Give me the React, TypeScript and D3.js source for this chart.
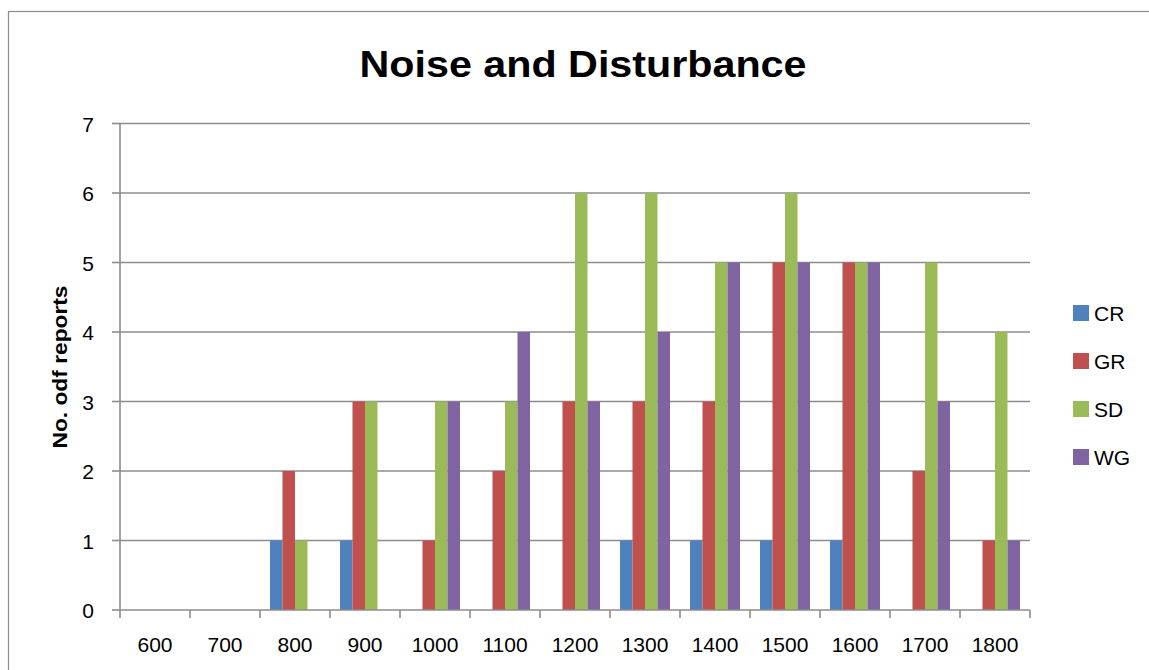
import React from "react";
import * as d3 from "d3";

const categories = ["600", "700", "800", "900", "1000", "1100", "1200", "1300", "1400", "1500", "1600", "1700", "1800"];
const seriesNames = ["CR", "GR", "SD", "WG"];
const crValues = [0, 0, 1, 1, 0, 0, 0, 1, 1, 1, 1, 0, 0];
const grValues = [0, 0, 2, 3, 1, 2, 3, 3, 3, 5, 5, 2, 1];
const sdValues = [0, 0, 1, 3, 3, 3, 6, 6, 5, 6, 5, 5, 4];
const wgValues = [0, 0, 0, 0, 3, 4, 3, 4, 5, 5, 5, 3, 1];
const yTicks = [0, 1, 2, 3, 4, 5, 6, 7];
const colors = ["#4F81BD", "#C0504D", "#9BBB59", "#8064A2"];

const allSeries = [crValues, grValues, sdValues, wgValues];

export default function App() {
  const W = 1149, H = 670;
  const left = 120, right = 1030, top = 123.5, bottom = 610;
  const x = d3.scaleBand<string>().domain(categories).range([left, right]).paddingInner(0).paddingOuter(0);
  const inner = d3.scaleBand<string>().domain(seriesNames).range([10, x.bandwidth() - 10]).padding(0);
  const y = d3.scaleLinear().domain([0, 7]).range([bottom, top]);
  const font = "'Liberation Sans', Arial, sans-serif";
  const grid = "#8C8C8C";

  return (
    <svg width={W} height={H} style={{ position: "absolute", left: 0, top: 0 }} xmlns="http://www.w3.org/2000/svg">
      <rect x={0} y={0} width={W} height={H} fill="#fff" />
      <rect x={8.5} y={11.5} width={W + 20} height={H + 20} fill="none" stroke="#8C8C8C" strokeWidth={1.2} />
      <text x={583} y={77} textAnchor="middle" fontFamily={font} fontWeight="bold" fontSize={37} textLength={447} lengthAdjust="spacingAndGlyphs" fill="#000">
        Noise and Disturbance
      </text>
      {yTicks.map((t) => (
        <g key={t}>
          {t > 0 && <line x1={left} x2={right} y1={y(t)} y2={y(t)} stroke={grid} strokeWidth={1.6} />}
          <line x1={112} x2={left} y1={y(t)} y2={y(t)} stroke={grid} strokeWidth={1.6} />
          <text x={94} y={y(t) + 8} textAnchor="end" fontFamily={font} fontSize={21} fill="#000">{t}</text>
        </g>
      ))}
      {allSeries.map((vals, si) =>
        vals.map((v, ci) =>
          v > 0 ? (
            <rect key={`${si}-${ci}`}
              x={(x(categories[ci]) as number) + (inner(seriesNames[si]) as number)}
              y={y(v)} width={inner.bandwidth()} height={y(0) - y(v)}
              fill={colors[si]} />
          ) : null
        )
      )}
      <line x1={left} x2={left} y1={top} y2={bottom} stroke={grid} strokeWidth={1.6} />
      <line x1={left} x2={right} y1={bottom} y2={bottom} stroke={grid} strokeWidth={1.6} />
      {d3.range(categories.length + 1).map((i) => {
        const xx = left + i * x.bandwidth();
        return <line key={i} x1={xx} x2={xx} y1={bottom} y2={618} stroke={grid} strokeWidth={1.6} />;
      })}
      {categories.map((c) => (
        <text key={c} x={(x(c) as number) + x.bandwidth() / 2} y={652} textAnchor="middle" fontFamily={font} fontSize={21} fill="#000">{c}</text>
      ))}
      <text transform={`translate(67,367) rotate(-90)`} textAnchor="middle" fontFamily={font} fontWeight="bold" fontSize={20} textLength={163} lengthAdjust="spacingAndGlyphs" fill="#000">
        No. odf reports
      </text>
      {seriesNames.map((s, i) => (
        <g key={s}>
          <rect x={1073} y={305 + i * 48} width={16} height={16} fill={colors[i]} />
          <text x={1094} y={321 + i * 48} fontFamily={font} fontSize={21} fill="#000">{s}</text>
        </g>
      ))}
    </svg>
  );
}
